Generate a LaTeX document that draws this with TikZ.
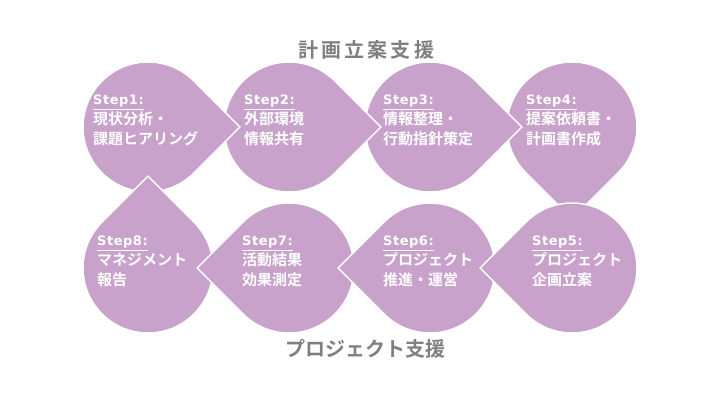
\documentclass[tikz,border=0pt]{standalone}
\usepackage{fontspec}
\setmainfont{Noto Sans CJK JP}[BoldFont={Noto Sans CJK JP Bold}]
\newfontfamily\steplabel{DejaVu Sans}[LetterSpace=4]
\definecolor{lilac}{HTML}{C8A2CA}
\definecolor{titlegray}{HTML}{7F7F7F}
\newcommand\stepname[1]{{\steplabel\bfseries\fontsize{13}{14}\selectfont\underline{#1}}}
\begin{document}
\begin{tikzpicture}[x=1pt,y=1pt]
\tikzset{
  teardrop/.style={fill=lilac,draw=white,line width=1.5pt},
  steptext/.style={text=white,font=\bfseries\fontsize{15}{20}\selectfont,align=left,anchor=north west,inner sep=0pt},
  heading/.style={text=titlegray,font=\bfseries\fontsize{20}{24}\selectfont}
}
\newcommand\drop[6]{
\path[teardrop] ([shift={(#1,#2)}]#3+45:65) arc[start angle=#3+45,end angle=#3+315,radius=65] -- ([shift={(#1,#2)}]#3:91.9) -- cycle;
\node[steptext] (#5) at (#1+#4,#2+32) {#6};
}
\useasboundingbox (0,0) rectangle (720,405);
\node[heading] (plan) at (366,355) {\addfontfeatures{LetterSpace=16}計画立案支援};
\node[heading] (project) at (365,56) {プロジェクト支援};
\drop{572}{278}{-90}{-46}{step4}{\stepname{Step4:}\\提案依頼書・\\計画書作成}
\drop{430}{278}{0}{-47}{step3}{\stepname{Step3:}\\情報整理・\\行動指針策定}
\drop{289}{278}{0}{-45}{step2}{\stepname{Step2:}\\外部環境\\情報共有}
\drop{148}{278}{0}{-55}{step1}{\stepname{Step1:}\\現状分析・\\課題ヒアリング}
\drop{148}{137}{90}{-51}{step8}{\stepname{Step8:}\\マネジメント\\報告}
\drop{289}{137}{180}{-47}{step7}{\stepname{Step7:}\\活動結果\\効果測定}
\drop{430}{137}{180}{-47}{step6}{\stepname{Step6:}\\プロジェクト\\推進・運営}
\drop{572}{137}{180}{-40}{step5}{\stepname{Step5:}\\プロジェクト\\企画立案}
\end{tikzpicture}
\end{document}
